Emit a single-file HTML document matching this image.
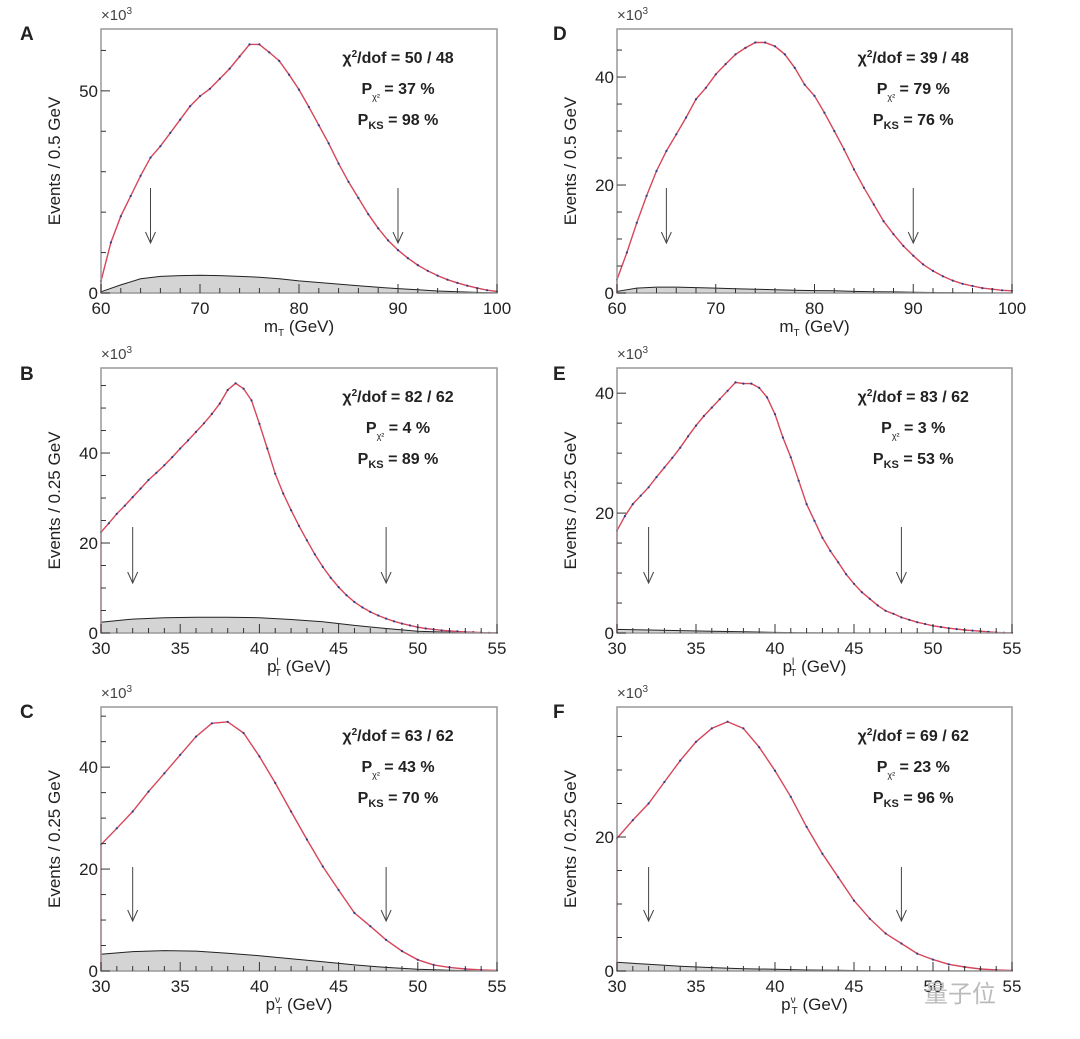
<!DOCTYPE html>
<html><head><meta charset="utf-8"><style>
html,body{margin:0;padding:0;background:#fff;}
svg{display:block;font-family:"Liberation Sans","Noto Sans CJK SC",sans-serif;}
</style></head><body>
<svg id="fig" width="1080" height="1039" viewBox="0 0 1080 1039" xmlns="http://www.w3.org/2000/svg"></svg>
<script>
// ---- data (x10^3 events), value at x = xmin + i*step ----
const mtValuesA = [3,12.5,19,24,29,33.5,36.3,39.6,42.9,46.2,48.7,50.5,53,55.5,58.5,61.5,61.5,59.5,57.4,54,50.3,46,41.5,37,32,27.5,23.5,19.5,16,13,10.6,8.6,6.9,5.5,4.3,3.3,2.5,1.8,1.2,0.7,0.4];
const mtBgA = [0.3,2,3.5,4.1,4.3,4.4,4.3,4.1,3.9,3.5,3.0,2.6,2.2,1.8,1.4,1.1,0.8,0.5,0.3,0.15,0.05];
const mtValuesD = [2.5,7.5,13,18,22.6,26.3,29.4,32.5,35.9,38,40.5,42.4,44.2,45.4,46.4,46.4,45.7,44.2,41.7,38.6,36.5,33.4,30,26.6,22.9,19.5,16.4,13.3,10.9,8.7,6.9,5.3,4.1,3.1,2.3,1.7,1.3,0.9,0.7,0.5,0.4];
const mtBgD = [0.3,0.9,1.1,1.1,1.0,0.9,0.8,0.7,0.6,0.5,0.45,0.4,0.3,0.25,0.2,0.15,0.1,0.07,0.05,0.02,0.01];
const ptlValuesB = [22.4,24.4,26.5,28.3,30.2,32.1,34,35.6,37.3,39.1,41,42.8,44.7,46.6,48.7,51,54,55.5,54.3,51.7,46.5,41,35.4,31,27.3,23.8,20.6,17.5,14.7,12.3,10.2,8.4,6.9,5.7,4.7,3.9,3.2,2.6,2.1,1.7,1.3,1.0,0.8,0.6,0.45,0.35,0.25,0.18,0.1,0.05,0.03];
const ptlBgB = [2.4,3.1,3.4,3.5,3.5,3.4,3.0,2.5,1.7,1.0,0.4,0.15,0.05,0.02];
const ptlValuesE = [17.1,19.5,21.5,22.9,24.3,26,27.6,29.2,30.9,32.8,34.6,36.2,37.6,39,40.4,41.8,41.6,41.6,40.9,39.3,36.5,32.6,29.3,25.4,21.5,18.7,15.9,13.7,11.8,9.8,8.2,6.8,5.7,4.6,3.7,3.2,2.6,2.2,1.8,1.5,1.2,1.0,0.8,0.65,0.5,0.4,0.3,0.2,0.1,0.05,0.03];
const ptlBgE = [0.6,0.5,0.4,0.3,0.2,0.1,0.05,0.02,0,0,0,0,0,0];
const ptnValuesC = [24.8,28,31.3,35.2,38.8,42.4,46,48.6,48.9,46.7,42.1,36.9,31.3,25.8,20.5,15.9,11.4,8.8,6.1,3.9,2.2,1.2,0.7,0.4,0.2,0.1];
const ptnBgC = [3.3,3.8,4.0,3.9,3.5,3.0,2.4,1.8,1.2,0.7,0.35,0.15,0.05,0.02];
const ptnValuesF = [19.8,22.5,25,28.2,31.4,34.2,36.2,37.2,36.2,33.4,29.9,26,21.5,17.5,14,10.5,7.8,5.6,4.1,2.6,1.7,1.0,0.6,0.3,0.15,0.08];
const ptnBgF = [1.3,1.0,0.7,0.5,0.35,0.25,0.15,0.1,0.05,0.03,0.02,0.01,0,0];
const mtTicks = [60,70,80,90,100];
const ptTicks = [30,35,40,45,50,55];

const NS="http://www.w3.org/2000/svg";
const svg=document.getElementById('fig');
function mk(tag,attrs,parent){const e=document.createElementNS(NS,tag);for(const k in attrs)e.setAttribute(k,attrs[k]);(parent||svg).appendChild(e);return e;}

const panels=[
 {id:'a',L:'A',x0:101,x1:497,y0:29,y1:293,xmin:60,xmax:100,ymax:65.3,vals:mtValuesA,vstep:1,bg:mtBgA,bstep:2,xt:mtTicks,xminor:2,yt:[0,50],yminor:10,arrows:[65,90],ay:[188,243],
  stats:['50 / 48','37 %','98 %'],ylab:'Events / 0.5 GeV',xl:'m',xsup:'',lx:20,ly:40},
 {id:'b',L:'B',x0:101,x1:497,y0:368,y1:633,xmin:30,xmax:55,ymax:58.9,vals:ptlValuesB,vstep:0.5,bg:ptlBgB,bstep:2,xt:ptTicks,xminor:1,yt:[0,20,40],yminor:5,arrows:[32,48],ay:[527,583],
  stats:['82 / 62','4 %','89 %'],ylab:'Events / 0.25 GeV',xl:'p',xsup:'l',lx:20,ly:380},
 {id:'c',L:'C',x0:101,x1:497,y0:707,y1:971,xmin:30,xmax:55,ymax:51.8,vals:ptnValuesC,vstep:1,bg:ptnBgC,bstep:2,xt:ptTicks,xminor:1,yt:[0,20,40],yminor:5,arrows:[32,48],ay:[867,921],
  stats:['63 / 62','43 %','70 %'],ylab:'Events / 0.25 GeV',xl:'p',xsup:'ν',lx:20,ly:718},
 {id:'d',L:'D',x0:617,x1:1012,y0:29,y1:293,xmin:60,xmax:100,ymax:48.9,vals:mtValuesD,vstep:1,bg:mtBgD,bstep:2,xt:mtTicks,xminor:2,yt:[0,20,40],yminor:5,arrows:[65,90],ay:[188,243],
  stats:['39 / 48','79 %','76 %'],ylab:'Events / 0.5 GeV',xl:'m',xsup:'',lx:553,ly:40},
 {id:'e',L:'E',x0:617,x1:1012,y0:368,y1:633,xmin:30,xmax:55,ymax:44.2,vals:ptlValuesE,vstep:0.5,bg:ptlBgE,bstep:2,xt:ptTicks,xminor:1,yt:[0,20,40],yminor:5,arrows:[32,48],ay:[527,583],
  stats:['83 / 62','3 %','53 %'],ylab:'Events / 0.25 GeV',xl:'p',xsup:'l',lx:553,ly:380},
 {id:'f',L:'F',x0:617,x1:1012,y0:707,y1:971,xmin:30,xmax:55,ymax:39.4,vals:ptnValuesF,vstep:1,bg:ptnBgF,bstep:2,xt:ptTicks,xminor:1,yt:[0,20],yminor:5,arrows:[32,48],ay:[867,921],
  stats:['69 / 62','23 %','96 %'],ylab:'Events / 0.25 GeV',xl:'p',xsup:'ν',lx:553,ly:718}
];

panels.forEach(p=>{
 const g=mk('g',{});
 
 
 const X=v=>p.x0+(v-p.xmin)/(p.xmax-p.xmin)*(p.x1-p.x0);
 const Y=v=>p.y1-v/p.ymax*(p.y1-p.y0);
 let d='M'+X(p.xmin)+','+Y(0);
 p.bg.forEach((v,i)=>{const xv=Math.min(p.xmin+i*p.bstep,p.xmax);d+=' L'+X(xv).toFixed(1)+','+Y(v).toFixed(1);});
 d+=' L'+X(p.xmax)+','+Y(0)+' Z';
 const bg=mk('path',{d:d,fill:'#d4d4d4',stroke:'#222','stroke-width':1},g);
 
 
 // histogram curve (fine steps look nearly smooth)
 let pts=[X(p.xmin).toFixed(1)+','+Y(0).toFixed(1)];
 p.vals.forEach((v,i)=>{const a=Math.min(p.xmin+i*p.vstep,p.xmax);pts.push(X(a).toFixed(1)+','+Y(v).toFixed(1));});
 const h=mk('polyline',{points:pts.join(' '),fill:'none',stroke:'#d6455a','stroke-width':1.4},g);
 
 
 p.vals.forEach((v,i)=>{
  const xv=p.xmin+i*p.vstep; if(xv>p.xmax) return;
  const c=mk('circle',{cx:X(xv).toFixed(1),cy:Y(v).toFixed(1),r:1.1,fill:'#2a3f8a'},g);
  
  
 });
 const fr=mk('rect',{x:p.x0,y:p.y0,width:p.x1-p.x0,height:p.y1-p.y0,fill:'none',stroke:'#999','stroke-width':1.5},g);
 
 
 for(let v=p.xmin;v<=p.xmax+1e-6;v+=p.xminor){
  const major=p.xt.indexOf(v)>=0;
  mk('line',{x1:X(v),x2:X(v),y1:p.y1,y2:p.y1-(major?9:5),stroke:'#333','stroke-width':1},g);
 }
 p.xt.forEach(v=>{const t=mk('text',{x:X(v),y:p.y1+21,'font-size':17,'text-anchor':'middle',fill:'#222'},g);t.textContent=v;
  
  });
 for(let v=0;v<=p.ymax;v+=p.yminor){
  const major=p.yt.indexOf(v)>=0;
  mk('line',{x1:p.x0,x2:p.x0+(major?9:5),y1:Y(v),y2:Y(v),stroke:'#333','stroke-width':1},g);
 }
 p.yt.forEach(v=>{const t=mk('text',{x:p.x0-3,y:Y(v)+6,'font-size':17,'text-anchor':'end',fill:'#222'},g);t.textContent=v;
  
  });
 const e3=mk('text',{x:p.x0,y:p.y0-9,'font-size':15,fill:'#444'},g);
 e3.innerHTML='×10<tspan dy="-6" font-size="10">3</tspan>';
 
 
 p.arrows.forEach(v=>{
  const a=mk('g',{stroke:'#444','stroke-width':1,fill:'none'},g);
  
  
  mk('line',{x1:X(v),x2:X(v),y1:p.ay[0],y2:p.ay[1]},a);
  mk('polyline',{points:(X(v)-5)+','+(p.ay[1]-11)+' '+X(v)+','+p.ay[1]+' '+(X(v)+5)+','+(p.ay[1]-11)},a);
 });
 const cx=p.x0+(p.x1-p.x0)*0.75;
 const s=mk('g',{'font-size':16,'font-weight':'bold','text-anchor':'middle',fill:'#222'},g);
 
 
 const t1=mk('text',{x:cx,y:p.y0+34},s);t1.innerHTML='χ<tspan dy="-6" font-size="10">2</tspan><tspan dy="6">/dof = '+p.stats[0]+'</tspan>';
 const t2=mk('text',{x:cx,y:p.y0+65},s);t2.innerHTML='P<tspan dy="6" font-size="9" font-weight="normal">χ²</tspan><tspan dy="-6"> = '+p.stats[1]+'</tspan>';
 const t3=mk('text',{x:cx,y:p.y0+96},s);t3.innerHTML='P<tspan dy="4" font-size="11">KS</tspan><tspan dy="-4"> = '+p.stats[2]+'</tspan>';
 const ycx=p.x0-41, ycy=(p.y0+p.y1)/2;
 const yl=mk('text',{x:ycx,y:ycy,'font-size':17,'text-anchor':'middle',fill:'#222',transform:'rotate(-90 '+ycx+' '+ycy+')'},g);
 yl.textContent=p.ylab;
 
 
 const xl=mk('text',{x:(p.x0+p.x1)/2,y:p.y1+39,'font-size':17,'text-anchor':'middle',fill:'#222'},g);
 xl.innerHTML=p.xl+(p.xsup?'<tspan dy="-7" font-size="10">'+p.xsup+'</tspan><tspan dx="-4" dy="11" font-size="10">T</tspan><tspan dy="-4">':'<tspan dy="4" font-size="10">T</tspan><tspan dy="-4">')+' (GeV)</tspan>';
 
 
 const pl=mk('text',{x:p.lx,y:p.ly,'font-size':19,'font-weight':'bold',fill:'#222'},g);
 pl.textContent=p.L;
 
 
});
const wm=mk('text',{x:960,y:1002,'font-size':24,fill:'#bbb','text-anchor':'middle'});
wm.textContent='量子位';


</script>
</body></html>
